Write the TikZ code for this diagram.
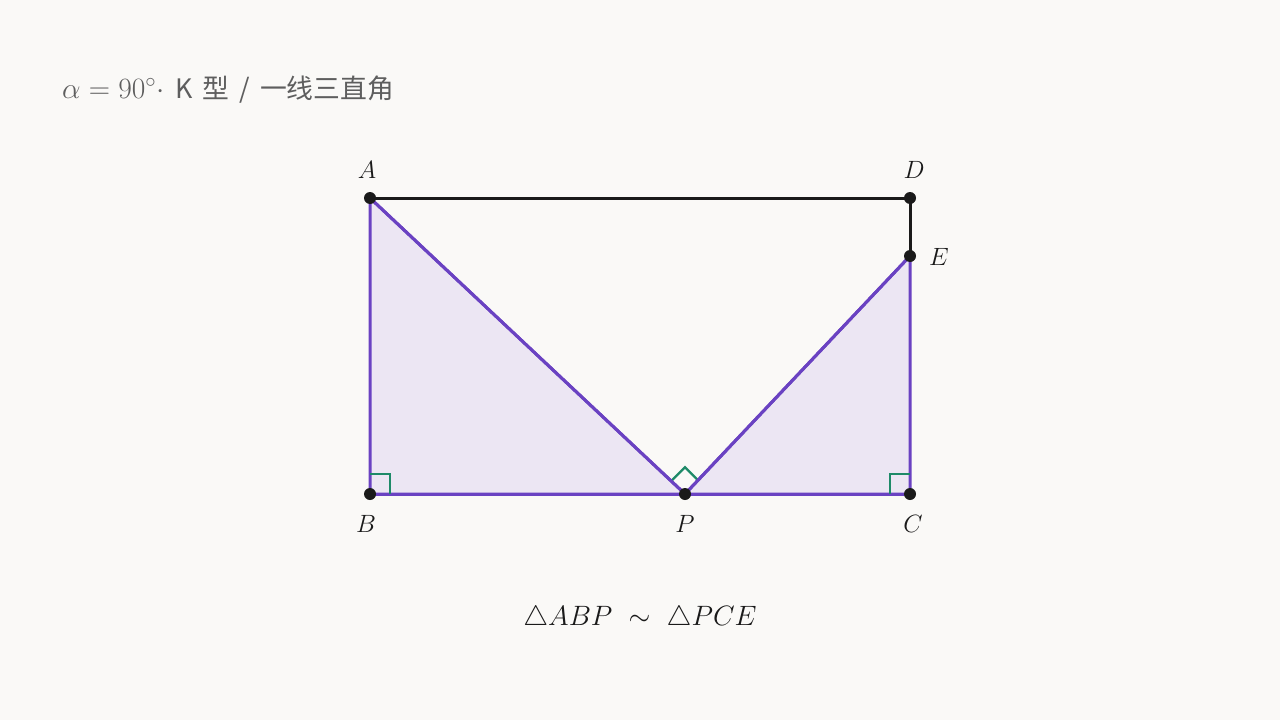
\RequirePackage{fix-cm}
\documentclass[tikz,border=0pt]{standalone}
\usepackage{fontspec}
\usetikzlibrary{calc}
\newfontfamily\cjk{Noto Sans CJK SC}
\newfontfamily\sansf{Noto Sans CJK SC}
\definecolor{bg}{HTML}{FAF9F7}
\definecolor{purp}{HTML}{6A42C2}
\definecolor{fillp}{HTML}{ECE6F3}
\definecolor{grn}{HTML}{1E8A68}
\definecolor{ink}{HTML}{1A1A1A}
\definecolor{gr}{HTML}{5E5E5E}
\tikzset{
  pt/.style={circle,fill=ink,inner sep=0pt,minimum size=12pt},
  lab/.style={font=\fontsize{25}{27}\selectfont,text=ink},
  tri/.style={draw=purp,line width=3pt,fill=fillp,line join=round},
  blk/.style={draw=ink,line width=3pt},
  ra/.style={draw=grn,line width=2.2pt}
}
\begin{document}
\begin{tikzpicture}[x=1pt,y=-1pt]
\fill[bg] (0,0) rectangle (1280,720);
\useasboundingbox (0,0) rectangle (1280,720);
\coordinate (A) at (370,198);
\coordinate (D) at (910,198);
\coordinate (E) at (910,256);
\coordinate (B) at (370,494);
\coordinate (P) at (685,494);
\coordinate (C) at (910,494);
\path[tri] (A) -- (B) -- (P) -- cycle;
\path[tri] (P) -- (C) -- (E) -- cycle;
\draw[blk,line cap=round] (A) -- (D) -- (E);
\draw[purp,line width=3pt] (B) -- (C);
\draw[ra] ($(B)+(0,-20)$) -- ++(20,0) -- ++(0,20);
\draw[ra] ($(C)+(0,-20)$) -- ++(-20,0) -- ++(0,20);
\draw[ra] ($(P)+(-13.4,-13.4)$) -- ++(13.4,-13.4) -- ++(13.4,13.4);
\draw[purp,line width=3pt] (A) -- (P) -- (E);
\node[pt] (nA) at (A) {};
\node[pt] (nD) at (D) {};
\node[pt] (nE) at (E) {};
\node[pt] (nB) at (B) {};
\node[pt] (nP) at (P) {};
\node[pt] (nC) at (C) {};
\node[lab] (lA) at (367,170) {$A$};
\node[lab] (lD) at (914,170) {$D$};
\node[lab] (lE) at (939,257) {$E$};
\node[lab] (lB) at (366,524) {$B$};
\node[lab] (lP) at (685,524) {$P$};
\node[lab] (lC) at (913,524) {$C$};
\node[anchor=base west,text=gr,inner sep=0pt] (title) at (62,98)
  {\fontsize{29.5}{31}\selectfont$\alpha=90^\circ\cdot$\hspace{11pt}{\fontsize{26.8}{28}\selectfont\sansf K\hspace{10pt}{\cjk 型}\hspace{10pt}/\hspace{10pt}{\cjk 一线三直角}}};
\node[text=ink,font=\fontsize{28}{30}\selectfont] (sim) at (640,618) {$\triangle ABP\ \sim\ \triangle PCE$};
\end{tikzpicture}
\end{document}
